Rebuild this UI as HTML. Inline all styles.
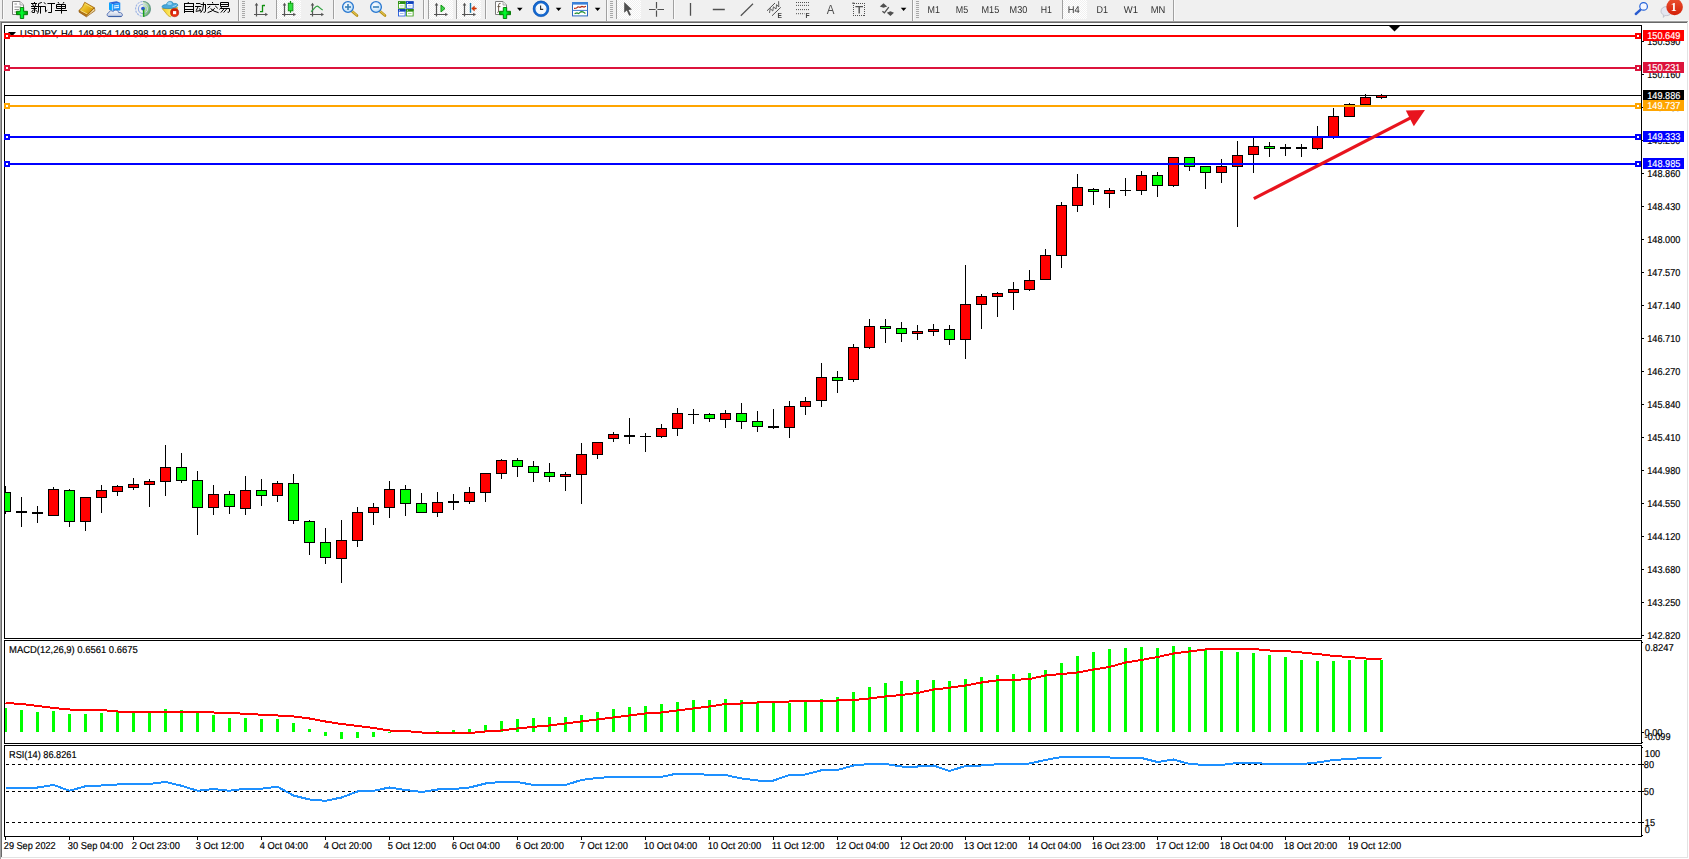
<!DOCTYPE html>
<html><head><meta charset="utf-8"><title>USDJPY H4</title>
<style>
html,body{margin:0;padding:0;background:#fff;}
body{width:1689px;height:859px;overflow:hidden;position:relative;font-family:"Liberation Sans",sans-serif;}
svg{display:block}
</style></head><body>
<svg id="chart" width="1689" height="859" viewBox="0 0 1689 859" style="position:absolute;left:0;top:0">
<g shape-rendering="crispEdges">
<rect x="0" y="22" width="1689" height="837" fill="#ffffff"/>
<rect x="0" y="22" width="1" height="837" fill="#a0a0a0"/>
<rect x="1" y="22" width="1" height="836" fill="#696969"/>
<rect x="1687" y="22" width="1" height="836" fill="#e3e3e3"/>
<rect x="1" y="857" width="1687" height="1" fill="#e3e3e3"/>
<rect x="4" y="25" width="1638" height="1" fill="#000"/>
<rect x="4" y="638" width="1638" height="1" fill="#000"/>
<rect x="4" y="25" width="1" height="614" fill="#000"/>
<rect x="1641" y="25" width="1" height="614" fill="#000"/>
<rect x="4" y="640" width="1638" height="1" fill="#000"/>
<rect x="4" y="743" width="1638" height="1" fill="#000"/>
<rect x="4" y="640" width="1" height="104" fill="#000"/>
<rect x="1641" y="640" width="1" height="104" fill="#000"/>
<rect x="4" y="745" width="1638" height="1" fill="#000"/>
<rect x="4" y="836" width="1638" height="1" fill="#000"/>
<rect x="4" y="745" width="1" height="92" fill="#000"/>
<rect x="1641" y="745" width="1" height="92" fill="#000"/>
<rect x="5" y="486" width="1" height="28" fill="#000"/>
<rect x="5" y="492" width="6" height="20" fill="#000"/>
<rect x="5" y="493" width="5" height="18" fill="#00ff00"/>
<rect x="21" y="497" width="1" height="30" fill="#000"/>
<rect x="16" y="511" width="11" height="2" fill="#000"/>
<rect x="37" y="506" width="1" height="17" fill="#000"/>
<rect x="32" y="512" width="11" height="2" fill="#000"/>
<rect x="53" y="487" width="1" height="29" fill="#000"/>
<rect x="48" y="489" width="11" height="27" fill="#000"/>
<rect x="49" y="490" width="9" height="25" fill="#ff0000"/>
<rect x="69" y="489" width="1" height="38" fill="#000"/>
<rect x="64" y="490" width="11" height="32" fill="#000"/>
<rect x="65" y="491" width="9" height="30" fill="#00ff00"/>
<rect x="85" y="497" width="1" height="34" fill="#000"/>
<rect x="80" y="497" width="11" height="25" fill="#000"/>
<rect x="81" y="498" width="9" height="23" fill="#ff0000"/>
<rect x="101" y="485" width="1" height="28" fill="#000"/>
<rect x="96" y="490" width="11" height="8" fill="#000"/>
<rect x="97" y="491" width="9" height="6" fill="#ff0000"/>
<rect x="117" y="485" width="1" height="11" fill="#000"/>
<rect x="112" y="486" width="11" height="6" fill="#000"/>
<rect x="113" y="487" width="9" height="4" fill="#ff0000"/>
<rect x="133" y="478" width="1" height="12" fill="#000"/>
<rect x="128" y="484" width="11" height="4" fill="#000"/>
<rect x="129" y="485" width="9" height="2" fill="#ff0000"/>
<rect x="149" y="479" width="1" height="28" fill="#000"/>
<rect x="144" y="481" width="11" height="4" fill="#000"/>
<rect x="145" y="482" width="9" height="2" fill="#ff0000"/>
<rect x="165" y="445" width="1" height="51" fill="#000"/>
<rect x="160" y="467" width="11" height="15" fill="#000"/>
<rect x="161" y="468" width="9" height="13" fill="#ff0000"/>
<rect x="181" y="453" width="1" height="30" fill="#000"/>
<rect x="176" y="467" width="11" height="14" fill="#000"/>
<rect x="177" y="468" width="9" height="12" fill="#00ff00"/>
<rect x="197" y="471" width="1" height="64" fill="#000"/>
<rect x="192" y="480" width="11" height="28" fill="#000"/>
<rect x="193" y="481" width="9" height="26" fill="#00ff00"/>
<rect x="213" y="485" width="1" height="30" fill="#000"/>
<rect x="208" y="494" width="11" height="14" fill="#000"/>
<rect x="209" y="495" width="9" height="12" fill="#ff0000"/>
<rect x="229" y="491" width="1" height="23" fill="#000"/>
<rect x="224" y="494" width="11" height="13" fill="#000"/>
<rect x="225" y="495" width="9" height="11" fill="#00ff00"/>
<rect x="245" y="476" width="1" height="39" fill="#000"/>
<rect x="240" y="490" width="11" height="19" fill="#000"/>
<rect x="241" y="491" width="9" height="17" fill="#ff0000"/>
<rect x="261" y="479" width="1" height="27" fill="#000"/>
<rect x="256" y="490" width="11" height="6" fill="#000"/>
<rect x="257" y="491" width="9" height="4" fill="#00ff00"/>
<rect x="277" y="481" width="1" height="21" fill="#000"/>
<rect x="272" y="483" width="11" height="13" fill="#000"/>
<rect x="273" y="484" width="9" height="11" fill="#ff0000"/>
<rect x="293" y="474" width="1" height="50" fill="#000"/>
<rect x="288" y="483" width="11" height="38" fill="#000"/>
<rect x="289" y="484" width="9" height="36" fill="#00ff00"/>
<rect x="309" y="520" width="1" height="35" fill="#000"/>
<rect x="304" y="521" width="11" height="22" fill="#000"/>
<rect x="305" y="522" width="9" height="20" fill="#00ff00"/>
<rect x="325" y="528" width="1" height="36" fill="#000"/>
<rect x="320" y="542" width="11" height="16" fill="#000"/>
<rect x="321" y="543" width="9" height="14" fill="#00ff00"/>
<rect x="341" y="520" width="1" height="63" fill="#000"/>
<rect x="336" y="540" width="11" height="19" fill="#000"/>
<rect x="337" y="541" width="9" height="17" fill="#ff0000"/>
<rect x="357" y="507" width="1" height="40" fill="#000"/>
<rect x="352" y="512" width="11" height="29" fill="#000"/>
<rect x="353" y="513" width="9" height="27" fill="#ff0000"/>
<rect x="373" y="503" width="1" height="22" fill="#000"/>
<rect x="368" y="507" width="11" height="6" fill="#000"/>
<rect x="369" y="508" width="9" height="4" fill="#ff0000"/>
<rect x="389" y="481" width="1" height="37" fill="#000"/>
<rect x="384" y="489" width="11" height="19" fill="#000"/>
<rect x="385" y="490" width="9" height="17" fill="#ff0000"/>
<rect x="405" y="485" width="1" height="31" fill="#000"/>
<rect x="400" y="489" width="11" height="15" fill="#000"/>
<rect x="401" y="490" width="9" height="13" fill="#00ff00"/>
<rect x="421" y="493" width="1" height="20" fill="#000"/>
<rect x="416" y="503" width="11" height="10" fill="#000"/>
<rect x="417" y="504" width="9" height="8" fill="#00ff00"/>
<rect x="437" y="492" width="1" height="25" fill="#000"/>
<rect x="432" y="502" width="11" height="11" fill="#000"/>
<rect x="433" y="503" width="9" height="9" fill="#ff0000"/>
<rect x="453" y="494" width="1" height="16" fill="#000"/>
<rect x="448" y="501" width="11" height="2" fill="#000"/>
<rect x="469" y="487" width="1" height="17" fill="#000"/>
<rect x="464" y="492" width="11" height="10" fill="#000"/>
<rect x="465" y="493" width="9" height="8" fill="#ff0000"/>
<rect x="485" y="473" width="1" height="29" fill="#000"/>
<rect x="480" y="473" width="11" height="20" fill="#000"/>
<rect x="481" y="474" width="9" height="18" fill="#ff0000"/>
<rect x="501" y="459" width="1" height="20" fill="#000"/>
<rect x="496" y="460" width="11" height="14" fill="#000"/>
<rect x="497" y="461" width="9" height="12" fill="#ff0000"/>
<rect x="517" y="458" width="1" height="19" fill="#000"/>
<rect x="512" y="460" width="11" height="7" fill="#000"/>
<rect x="513" y="461" width="9" height="5" fill="#00ff00"/>
<rect x="533" y="461" width="1" height="21" fill="#000"/>
<rect x="528" y="466" width="11" height="7" fill="#000"/>
<rect x="529" y="467" width="9" height="5" fill="#00ff00"/>
<rect x="549" y="463" width="1" height="19" fill="#000"/>
<rect x="544" y="472" width="11" height="5" fill="#000"/>
<rect x="545" y="473" width="9" height="3" fill="#00ff00"/>
<rect x="565" y="472" width="1" height="19" fill="#000"/>
<rect x="560" y="474" width="11" height="3" fill="#000"/>
<rect x="561" y="475" width="9" height="1" fill="#ff0000"/>
<rect x="581" y="443" width="1" height="61" fill="#000"/>
<rect x="576" y="454" width="11" height="21" fill="#000"/>
<rect x="577" y="455" width="9" height="19" fill="#ff0000"/>
<rect x="597" y="442" width="1" height="17" fill="#000"/>
<rect x="592" y="442" width="11" height="13" fill="#000"/>
<rect x="593" y="443" width="9" height="11" fill="#ff0000"/>
<rect x="613" y="432" width="1" height="10" fill="#000"/>
<rect x="608" y="434" width="11" height="5" fill="#000"/>
<rect x="609" y="435" width="9" height="3" fill="#ff0000"/>
<rect x="629" y="418" width="1" height="26" fill="#000"/>
<rect x="624" y="435" width="11" height="2" fill="#000"/>
<rect x="645" y="433" width="1" height="19" fill="#000"/>
<rect x="640" y="436" width="11" height="1" fill="#000"/>
<rect x="661" y="424" width="1" height="14" fill="#000"/>
<rect x="656" y="428" width="11" height="9" fill="#000"/>
<rect x="657" y="429" width="9" height="7" fill="#ff0000"/>
<rect x="677" y="408" width="1" height="28" fill="#000"/>
<rect x="672" y="413" width="11" height="16" fill="#000"/>
<rect x="673" y="414" width="9" height="14" fill="#ff0000"/>
<rect x="693" y="409" width="1" height="15" fill="#000"/>
<rect x="688" y="414" width="11" height="1" fill="#000"/>
<rect x="709" y="413" width="1" height="9" fill="#000"/>
<rect x="704" y="414" width="11" height="5" fill="#000"/>
<rect x="705" y="415" width="9" height="3" fill="#00ff00"/>
<rect x="725" y="410" width="1" height="18" fill="#000"/>
<rect x="720" y="413" width="11" height="7" fill="#000"/>
<rect x="721" y="414" width="9" height="5" fill="#ff0000"/>
<rect x="741" y="403" width="1" height="26" fill="#000"/>
<rect x="736" y="413" width="11" height="9" fill="#000"/>
<rect x="737" y="414" width="9" height="7" fill="#00ff00"/>
<rect x="757" y="411" width="1" height="21" fill="#000"/>
<rect x="752" y="421" width="11" height="6" fill="#000"/>
<rect x="753" y="422" width="9" height="4" fill="#00ff00"/>
<rect x="773" y="409" width="1" height="20" fill="#000"/>
<rect x="768" y="426" width="11" height="2" fill="#000"/>
<rect x="789" y="401" width="1" height="37" fill="#000"/>
<rect x="784" y="406" width="11" height="22" fill="#000"/>
<rect x="785" y="407" width="9" height="20" fill="#ff0000"/>
<rect x="805" y="397" width="1" height="18" fill="#000"/>
<rect x="800" y="401" width="11" height="6" fill="#000"/>
<rect x="801" y="402" width="9" height="4" fill="#ff0000"/>
<rect x="821" y="363" width="1" height="44" fill="#000"/>
<rect x="816" y="377" width="11" height="24" fill="#000"/>
<rect x="817" y="378" width="9" height="22" fill="#ff0000"/>
<rect x="837" y="371" width="1" height="22" fill="#000"/>
<rect x="832" y="377" width="11" height="4" fill="#000"/>
<rect x="833" y="378" width="9" height="2" fill="#00ff00"/>
<rect x="853" y="344" width="1" height="38" fill="#000"/>
<rect x="848" y="347" width="11" height="33" fill="#000"/>
<rect x="849" y="348" width="9" height="31" fill="#ff0000"/>
<rect x="869" y="319" width="1" height="30" fill="#000"/>
<rect x="864" y="326" width="11" height="22" fill="#000"/>
<rect x="865" y="327" width="9" height="20" fill="#ff0000"/>
<rect x="885" y="319" width="1" height="24" fill="#000"/>
<rect x="880" y="326" width="11" height="3" fill="#000"/>
<rect x="881" y="327" width="9" height="1" fill="#00ff00"/>
<rect x="901" y="322" width="1" height="20" fill="#000"/>
<rect x="896" y="328" width="11" height="6" fill="#000"/>
<rect x="897" y="329" width="9" height="4" fill="#00ff00"/>
<rect x="917" y="325" width="1" height="15" fill="#000"/>
<rect x="912" y="331" width="11" height="3" fill="#000"/>
<rect x="913" y="332" width="9" height="1" fill="#ff0000"/>
<rect x="933" y="324" width="1" height="12" fill="#000"/>
<rect x="928" y="329" width="11" height="3" fill="#000"/>
<rect x="929" y="330" width="9" height="1" fill="#ff0000"/>
<rect x="949" y="325" width="1" height="20" fill="#000"/>
<rect x="944" y="329" width="11" height="11" fill="#000"/>
<rect x="945" y="330" width="9" height="9" fill="#00ff00"/>
<rect x="965" y="265" width="1" height="94" fill="#000"/>
<rect x="960" y="304" width="11" height="36" fill="#000"/>
<rect x="961" y="305" width="9" height="34" fill="#ff0000"/>
<rect x="981" y="294" width="1" height="35" fill="#000"/>
<rect x="976" y="296" width="11" height="9" fill="#000"/>
<rect x="977" y="297" width="9" height="7" fill="#ff0000"/>
<rect x="997" y="292" width="1" height="25" fill="#000"/>
<rect x="992" y="293" width="11" height="4" fill="#000"/>
<rect x="993" y="294" width="9" height="2" fill="#ff0000"/>
<rect x="1013" y="282" width="1" height="28" fill="#000"/>
<rect x="1008" y="289" width="11" height="4" fill="#000"/>
<rect x="1009" y="290" width="9" height="2" fill="#ff0000"/>
<rect x="1029" y="270" width="1" height="21" fill="#000"/>
<rect x="1024" y="280" width="11" height="10" fill="#000"/>
<rect x="1025" y="281" width="9" height="8" fill="#ff0000"/>
<rect x="1045" y="249" width="1" height="31" fill="#000"/>
<rect x="1040" y="255" width="11" height="25" fill="#000"/>
<rect x="1041" y="256" width="9" height="23" fill="#ff0000"/>
<rect x="1061" y="202" width="1" height="66" fill="#000"/>
<rect x="1056" y="205" width="11" height="51" fill="#000"/>
<rect x="1057" y="206" width="9" height="49" fill="#ff0000"/>
<rect x="1077" y="174" width="1" height="38" fill="#000"/>
<rect x="1072" y="187" width="11" height="19" fill="#000"/>
<rect x="1073" y="188" width="9" height="17" fill="#ff0000"/>
<rect x="1093" y="188" width="1" height="17" fill="#000"/>
<rect x="1088" y="189" width="11" height="3" fill="#000"/>
<rect x="1089" y="190" width="9" height="1" fill="#00ff00"/>
<rect x="1109" y="188" width="1" height="20" fill="#000"/>
<rect x="1104" y="190" width="11" height="4" fill="#000"/>
<rect x="1105" y="191" width="9" height="2" fill="#ff0000"/>
<rect x="1125" y="178" width="1" height="18" fill="#000"/>
<rect x="1120" y="190" width="11" height="1" fill="#000"/>
<rect x="1141" y="171" width="1" height="24" fill="#000"/>
<rect x="1136" y="175" width="11" height="16" fill="#000"/>
<rect x="1137" y="176" width="9" height="14" fill="#ff0000"/>
<rect x="1157" y="172" width="1" height="25" fill="#000"/>
<rect x="1152" y="175" width="11" height="11" fill="#000"/>
<rect x="1153" y="176" width="9" height="9" fill="#00ff00"/>
<rect x="1173" y="157" width="1" height="30" fill="#000"/>
<rect x="1168" y="157" width="11" height="29" fill="#000"/>
<rect x="1169" y="158" width="9" height="27" fill="#ff0000"/>
<rect x="1189" y="157" width="1" height="14" fill="#000"/>
<rect x="1184" y="157" width="11" height="10" fill="#000"/>
<rect x="1185" y="158" width="9" height="8" fill="#00ff00"/>
<rect x="1205" y="166" width="1" height="23" fill="#000"/>
<rect x="1200" y="166" width="11" height="7" fill="#000"/>
<rect x="1201" y="167" width="9" height="5" fill="#00ff00"/>
<rect x="1221" y="159" width="1" height="24" fill="#000"/>
<rect x="1216" y="166" width="11" height="7" fill="#000"/>
<rect x="1217" y="167" width="9" height="5" fill="#ff0000"/>
<rect x="1237" y="141" width="1" height="86" fill="#000"/>
<rect x="1232" y="155" width="11" height="12" fill="#000"/>
<rect x="1233" y="156" width="9" height="10" fill="#ff0000"/>
<rect x="1253" y="138" width="1" height="35" fill="#000"/>
<rect x="1248" y="146" width="11" height="9" fill="#000"/>
<rect x="1249" y="147" width="9" height="7" fill="#ff0000"/>
<rect x="1269" y="142" width="1" height="15" fill="#000"/>
<rect x="1264" y="146" width="11" height="3" fill="#000"/>
<rect x="1265" y="147" width="9" height="1" fill="#00ff00"/>
<rect x="1285" y="144" width="1" height="12" fill="#000"/>
<rect x="1280" y="147" width="11" height="2" fill="#000"/>
<rect x="1301" y="144" width="1" height="13" fill="#000"/>
<rect x="1296" y="147" width="11" height="2" fill="#000"/>
<rect x="1317" y="126" width="1" height="24" fill="#000"/>
<rect x="1312" y="137" width="11" height="12" fill="#000"/>
<rect x="1313" y="138" width="9" height="10" fill="#ff0000"/>
<rect x="1333" y="108" width="1" height="31" fill="#000"/>
<rect x="1328" y="116" width="11" height="21" fill="#000"/>
<rect x="1329" y="117" width="9" height="19" fill="#ff0000"/>
<rect x="1349" y="103" width="1" height="14" fill="#000"/>
<rect x="1344" y="104" width="11" height="13" fill="#000"/>
<rect x="1345" y="105" width="9" height="11" fill="#ff0000"/>
<rect x="1365" y="94" width="1" height="11" fill="#000"/>
<rect x="1360" y="97" width="11" height="8" fill="#000"/>
<rect x="1361" y="98" width="9" height="6" fill="#ff0000"/>
<rect x="1381" y="94" width="1" height="5" fill="#000"/>
<rect x="1376" y="95" width="11" height="3" fill="#000"/>
<rect x="1377" y="96" width="9" height="1" fill="#ff0000"/>
</g>
<polygon points="8,32 16,32 12,36.5" fill="#000"/>
<text x="20" y="37" font-size="10" fill="#000" style="text-rendering:geometricPrecision" stroke="#000" stroke-width="0.18" textLength="201.5" lengthAdjust="spacingAndGlyphs" font-family="Liberation Sans, sans-serif">USDJPY, H4  149.854 149.898 149.850 149.886</text>
<g shape-rendering="crispEdges">
<rect x="5" y="35" width="1636" height="2" fill="#ff0000"/>
<rect x="4" y="33" width="6" height="6" fill="#ff0000"/>
<rect x="6" y="35" width="2" height="2" fill="#fff"/>
<rect x="1635" y="33" width="6" height="6" fill="#ff0000"/>
<rect x="1637" y="35" width="2" height="2" fill="#fff"/>
<rect x="5" y="67" width="1636" height="2" fill="#dc143c"/>
<rect x="4" y="65" width="6" height="6" fill="#dc143c"/>
<rect x="6" y="67" width="2" height="2" fill="#fff"/>
<rect x="1635" y="65" width="6" height="6" fill="#dc143c"/>
<rect x="1637" y="67" width="2" height="2" fill="#fff"/>
<rect x="5" y="95" width="1636" height="1" fill="#000000"/>
<rect x="5" y="105" width="1636" height="2" fill="#ffa500"/>
<rect x="4" y="103" width="6" height="6" fill="#ffa500"/>
<rect x="6" y="105" width="2" height="2" fill="#fff"/>
<rect x="1635" y="103" width="6" height="6" fill="#ffa500"/>
<rect x="1637" y="105" width="2" height="2" fill="#fff"/>
<rect x="5" y="136" width="1636" height="2" fill="#0000ff"/>
<rect x="4" y="134" width="6" height="6" fill="#0000ff"/>
<rect x="6" y="136" width="2" height="2" fill="#fff"/>
<rect x="1635" y="134" width="6" height="6" fill="#0000ff"/>
<rect x="1637" y="136" width="2" height="2" fill="#fff"/>
<rect x="5" y="163" width="1636" height="2" fill="#0000ff"/>
<rect x="4" y="161" width="6" height="6" fill="#0000ff"/>
<rect x="6" y="163" width="2" height="2" fill="#fff"/>
<rect x="1635" y="161" width="6" height="6" fill="#0000ff"/>
<rect x="1637" y="163" width="2" height="2" fill="#fff"/>
</g>
<line x1="1253.8" y1="198.7" x2="1411" y2="117.6" stroke="#e8141e" stroke-width="3.2"/>
<polygon points="1405.8,110.6 1425,109.9 1413.8,126.2" fill="#e8141e"/>
<polygon points="1389,26 1400,26 1394.5,31.5" fill="#000"/>
<g shape-rendering="crispEdges">
<rect x="1642" y="41" width="2" height="1" fill="#000"/>
<rect x="1642" y="74" width="2" height="1" fill="#000"/>
<rect x="1642" y="107" width="2" height="1" fill="#000"/>
<rect x="1642" y="140" width="2" height="1" fill="#000"/>
<rect x="1642" y="173" width="2" height="1" fill="#000"/>
<rect x="1642" y="206" width="2" height="1" fill="#000"/>
<rect x="1642" y="239" width="2" height="1" fill="#000"/>
<rect x="1642" y="272" width="2" height="1" fill="#000"/>
<rect x="1642" y="305" width="2" height="1" fill="#000"/>
<rect x="1642" y="338" width="2" height="1" fill="#000"/>
<rect x="1642" y="371" width="2" height="1" fill="#000"/>
<rect x="1642" y="404" width="2" height="1" fill="#000"/>
<rect x="1642" y="437" width="2" height="1" fill="#000"/>
<rect x="1642" y="470" width="2" height="1" fill="#000"/>
<rect x="1642" y="503" width="2" height="1" fill="#000"/>
<rect x="1642" y="536" width="2" height="1" fill="#000"/>
<rect x="1642" y="569" width="2" height="1" fill="#000"/>
<rect x="1642" y="602" width="2" height="1" fill="#000"/>
<rect x="1642" y="635" width="2" height="1" fill="#000"/>
<rect x="5" y="708" width="2" height="24" fill="#00ff00"/>
<rect x="20" y="710" width="3" height="22" fill="#00ff00"/>
<rect x="36" y="712" width="3" height="20" fill="#00ff00"/>
<rect x="52" y="711" width="3" height="21" fill="#00ff00"/>
<rect x="68" y="714" width="3" height="18" fill="#00ff00"/>
<rect x="84" y="714" width="3" height="18" fill="#00ff00"/>
<rect x="100" y="713" width="3" height="19" fill="#00ff00"/>
<rect x="116" y="712" width="3" height="20" fill="#00ff00"/>
<rect x="132" y="712" width="3" height="20" fill="#00ff00"/>
<rect x="148" y="712" width="3" height="20" fill="#00ff00"/>
<rect x="164" y="709" width="3" height="23" fill="#00ff00"/>
<rect x="180" y="710" width="3" height="22" fill="#00ff00"/>
<rect x="196" y="712" width="3" height="20" fill="#00ff00"/>
<rect x="212" y="715" width="3" height="17" fill="#00ff00"/>
<rect x="228" y="718" width="3" height="14" fill="#00ff00"/>
<rect x="244" y="718" width="3" height="14" fill="#00ff00"/>
<rect x="260" y="719" width="3" height="13" fill="#00ff00"/>
<rect x="276" y="719" width="3" height="13" fill="#00ff00"/>
<rect x="292" y="723" width="3" height="9" fill="#00ff00"/>
<rect x="308" y="729" width="3" height="3" fill="#00ff00"/>
<rect x="324" y="732" width="3" height="4" fill="#00ff00"/>
<rect x="340" y="732" width="3" height="7" fill="#00ff00"/>
<rect x="356" y="732" width="3" height="6" fill="#00ff00"/>
<rect x="372" y="732" width="3" height="5" fill="#00ff00"/>
<rect x="388" y="732" width="3" height="1" fill="#00ff00"/>
<rect x="436" y="731" width="3" height="1" fill="#00ff00"/>
<rect x="452" y="730" width="3" height="2" fill="#00ff00"/>
<rect x="468" y="729" width="3" height="3" fill="#00ff00"/>
<rect x="484" y="725" width="3" height="7" fill="#00ff00"/>
<rect x="500" y="721" width="3" height="11" fill="#00ff00"/>
<rect x="516" y="719" width="3" height="13" fill="#00ff00"/>
<rect x="532" y="718" width="3" height="14" fill="#00ff00"/>
<rect x="548" y="717" width="3" height="15" fill="#00ff00"/>
<rect x="564" y="717" width="3" height="15" fill="#00ff00"/>
<rect x="580" y="715" width="3" height="17" fill="#00ff00"/>
<rect x="596" y="712" width="3" height="20" fill="#00ff00"/>
<rect x="612" y="709" width="3" height="23" fill="#00ff00"/>
<rect x="628" y="707" width="3" height="25" fill="#00ff00"/>
<rect x="644" y="706" width="3" height="26" fill="#00ff00"/>
<rect x="660" y="704" width="3" height="28" fill="#00ff00"/>
<rect x="676" y="702" width="3" height="30" fill="#00ff00"/>
<rect x="692" y="700" width="3" height="32" fill="#00ff00"/>
<rect x="708" y="700" width="3" height="32" fill="#00ff00"/>
<rect x="724" y="699" width="3" height="33" fill="#00ff00"/>
<rect x="740" y="700" width="3" height="32" fill="#00ff00"/>
<rect x="756" y="702" width="3" height="30" fill="#00ff00"/>
<rect x="772" y="702" width="3" height="30" fill="#00ff00"/>
<rect x="788" y="703" width="3" height="29" fill="#00ff00"/>
<rect x="804" y="702" width="3" height="30" fill="#00ff00"/>
<rect x="820" y="699" width="3" height="33" fill="#00ff00"/>
<rect x="836" y="697" width="3" height="35" fill="#00ff00"/>
<rect x="852" y="692" width="3" height="40" fill="#00ff00"/>
<rect x="868" y="687" width="3" height="45" fill="#00ff00"/>
<rect x="884" y="683" width="3" height="49" fill="#00ff00"/>
<rect x="900" y="681" width="3" height="51" fill="#00ff00"/>
<rect x="916" y="680" width="3" height="52" fill="#00ff00"/>
<rect x="932" y="680" width="3" height="52" fill="#00ff00"/>
<rect x="948" y="681" width="3" height="51" fill="#00ff00"/>
<rect x="964" y="679" width="3" height="53" fill="#00ff00"/>
<rect x="980" y="677" width="3" height="55" fill="#00ff00"/>
<rect x="996" y="675" width="3" height="57" fill="#00ff00"/>
<rect x="1012" y="674" width="3" height="58" fill="#00ff00"/>
<rect x="1028" y="673" width="3" height="59" fill="#00ff00"/>
<rect x="1044" y="670" width="3" height="62" fill="#00ff00"/>
<rect x="1060" y="663" width="3" height="69" fill="#00ff00"/>
<rect x="1076" y="656" width="3" height="76" fill="#00ff00"/>
<rect x="1092" y="652" width="3" height="80" fill="#00ff00"/>
<rect x="1108" y="649" width="3" height="83" fill="#00ff00"/>
<rect x="1124" y="648" width="3" height="84" fill="#00ff00"/>
<rect x="1140" y="647" width="3" height="85" fill="#00ff00"/>
<rect x="1156" y="648" width="3" height="84" fill="#00ff00"/>
<rect x="1172" y="646" width="3" height="86" fill="#00ff00"/>
<rect x="1188" y="647" width="3" height="85" fill="#00ff00"/>
<rect x="1204" y="650" width="3" height="82" fill="#00ff00"/>
<rect x="1220" y="651" width="3" height="81" fill="#00ff00"/>
<rect x="1236" y="652" width="3" height="80" fill="#00ff00"/>
<rect x="1252" y="653" width="3" height="79" fill="#00ff00"/>
<rect x="1268" y="655" width="3" height="77" fill="#00ff00"/>
<rect x="1284" y="657" width="3" height="75" fill="#00ff00"/>
<rect x="1300" y="660" width="3" height="72" fill="#00ff00"/>
<rect x="1316" y="661" width="3" height="71" fill="#00ff00"/>
<rect x="1332" y="661" width="3" height="71" fill="#00ff00"/>
<rect x="1348" y="660" width="3" height="72" fill="#00ff00"/>
<rect x="1364" y="660" width="3" height="72" fill="#00ff00"/>
<rect x="1380" y="660" width="3" height="72" fill="#00ff00"/>
<polyline points="5.5,703 21.5,704 37.5,706 53.5,708 69.5,709.5 85.5,710 101.5,710 117.5,711.5 133.5,711.75 149.5,711.75 165.5,711.75 181.5,711.75 197.5,711.75 213.5,712.5 229.5,713 245.5,713.75 261.5,714.75 277.5,715.5 293.5,716.5 309.5,718.5 325.5,721.5 341.5,724 357.5,726 373.5,728 389.5,730.5 405.5,731 421.5,732.5 437.5,733 453.5,733.5 469.5,733 485.5,731.5 501.5,730.5 517.5,728.5 533.5,726.75 549.5,725.5 565.5,723.5 581.5,721.5 597.5,719.5 613.5,717.5 629.5,715.5 645.5,713.5 661.5,712.5 677.5,710.5 693.5,708.5 709.5,706.5 725.5,704 741.5,703.5 757.5,702.5 773.5,702 789.5,701.5 805.5,701 821.5,701 837.5,700.5 853.5,700 869.5,698.5 885.5,696.5 901.5,695 917.5,693 933.5,689.5 949.5,687.75 965.5,685.5 981.5,682.5 997.5,680.25 1013.5,680 1029.5,679 1045.5,675.5 1061.5,674 1077.5,672.5 1093.5,669.5 1109.5,667 1125.5,662.5 1141.5,660 1157.5,657 1173.5,653.5 1189.5,651.5 1205.5,649.5 1221.5,649 1237.5,649 1253.5,649 1269.5,650.5 1285.5,651 1301.5,652.5 1317.5,654 1333.5,656 1349.5,657 1365.5,658.5 1381.5,659" fill="none" stroke="#ff0000" stroke-width="2" stroke-linejoin="round"/>
<line x1="6" y1="764.5" x2="1641" y2="764.5" stroke="#000" stroke-width="1" stroke-dasharray="3,3"/>
<line x1="6" y1="791.5" x2="1641" y2="791.5" stroke="#000" stroke-width="1" stroke-dasharray="3,3"/>
<line x1="6" y1="822.5" x2="1641" y2="822.5" stroke="#000" stroke-width="1" stroke-dasharray="3,3"/>
<rect x="1642" y="642" width="1" height="1" fill="#000"/>
<rect x="1642" y="742" width="1" height="1" fill="#000"/>
<rect x="1642" y="747" width="1" height="1" fill="#000"/>
<rect x="1642" y="835" width="1" height="1" fill="#000"/>
<rect x="1642" y="732" width="2" height="1" fill="#000"/>
<rect x="1642" y="764" width="2" height="1" fill="#000"/>
<rect x="1642" y="791" width="2" height="1" fill="#000"/>
<rect x="1642" y="822" width="2" height="1" fill="#000"/>
<rect x="5" y="837" width="1" height="3" fill="#000"/>
<rect x="69" y="837" width="1" height="3" fill="#000"/>
<rect x="133" y="837" width="1" height="3" fill="#000"/>
<rect x="197" y="837" width="1" height="3" fill="#000"/>
<rect x="261" y="837" width="1" height="3" fill="#000"/>
<rect x="325" y="837" width="1" height="3" fill="#000"/>
<rect x="389" y="837" width="1" height="3" fill="#000"/>
<rect x="453" y="837" width="1" height="3" fill="#000"/>
<rect x="517" y="837" width="1" height="3" fill="#000"/>
<rect x="581" y="837" width="1" height="3" fill="#000"/>
<rect x="645" y="837" width="1" height="3" fill="#000"/>
<rect x="709" y="837" width="1" height="3" fill="#000"/>
<rect x="773" y="837" width="1" height="3" fill="#000"/>
<rect x="837" y="837" width="1" height="3" fill="#000"/>
<rect x="901" y="837" width="1" height="3" fill="#000"/>
<rect x="965" y="837" width="1" height="3" fill="#000"/>
<rect x="1029" y="837" width="1" height="3" fill="#000"/>
<rect x="1093" y="837" width="1" height="3" fill="#000"/>
<rect x="1157" y="837" width="1" height="3" fill="#000"/>
<rect x="1221" y="837" width="1" height="3" fill="#000"/>
<rect x="1285" y="837" width="1" height="3" fill="#000"/>
<rect x="1349" y="837" width="1" height="3" fill="#000"/>
<polyline points="5.5,787.5 21.5,787.5 37.5,787.5 53.5,785 69.5,790.75 85.5,786.25 101.5,785.5 117.5,784.5 133.5,784 149.5,784 165.5,782 181.5,785.75 197.5,790.75 213.5,789 229.5,790.75 245.5,788.75 261.5,788.75 277.5,786.75 293.5,795.5 309.5,799.5 325.5,800.75 341.5,797.5 357.5,791.5 373.5,790.75 389.5,787.5 405.5,790 421.5,792 437.5,789.5 453.5,789 469.5,787.5 485.5,783.5 501.5,781.75 517.5,782 533.5,785 549.5,785 565.5,785 581.5,780 597.5,778 613.5,776.75 629.5,776.75 645.5,776.75 661.5,776.75 677.5,773.5 693.5,773.5 709.5,775 725.5,775 741.5,778.5 757.5,780.5 773.5,780.5 789.5,775 805.5,774.5 821.5,770.25 837.5,770 853.5,765.5 869.5,764 885.5,764 901.5,766.5 917.5,766.5 933.5,765.5 949.5,771 965.5,766 981.5,765.5 997.5,764.25 1013.5,764 1029.5,763.5 1045.5,760 1061.5,757 1077.5,757 1093.5,757 1109.5,757.5 1125.5,758 1141.5,758 1157.5,762 1173.5,759.5 1189.5,764 1205.5,765 1221.5,765 1237.5,763 1253.5,763 1269.5,764 1285.5,764 1301.5,764 1317.5,762.5 1333.5,760 1349.5,759 1365.5,758 1381.5,757.5" fill="none" stroke="#1e90ff" stroke-width="2" stroke-linejoin="round"/>
</g>
<text x="1647.3" y="45" font-size="10" fill="#000" style="text-rendering:geometricPrecision" stroke="#000" stroke-width="0.18" textLength="33.0" lengthAdjust="spacingAndGlyphs" font-family="Liberation Sans, sans-serif">150.590</text>
<text x="1647.3" y="78" font-size="10" fill="#000" style="text-rendering:geometricPrecision" stroke="#000" stroke-width="0.18" textLength="33.0" lengthAdjust="spacingAndGlyphs" font-family="Liberation Sans, sans-serif">150.160</text>
<text x="1647.3" y="111" font-size="10" fill="#000" style="text-rendering:geometricPrecision" stroke="#000" stroke-width="0.18" textLength="33.0" lengthAdjust="spacingAndGlyphs" font-family="Liberation Sans, sans-serif">149.730</text>
<text x="1647.3" y="144" font-size="10" fill="#000" style="text-rendering:geometricPrecision" stroke="#000" stroke-width="0.18" textLength="33.0" lengthAdjust="spacingAndGlyphs" font-family="Liberation Sans, sans-serif">149.290</text>
<text x="1647.3" y="177" font-size="10" fill="#000" style="text-rendering:geometricPrecision" stroke="#000" stroke-width="0.18" textLength="33.0" lengthAdjust="spacingAndGlyphs" font-family="Liberation Sans, sans-serif">148.860</text>
<text x="1647.3" y="210" font-size="10" fill="#000" style="text-rendering:geometricPrecision" stroke="#000" stroke-width="0.18" textLength="33.0" lengthAdjust="spacingAndGlyphs" font-family="Liberation Sans, sans-serif">148.430</text>
<text x="1647.3" y="243" font-size="10" fill="#000" style="text-rendering:geometricPrecision" stroke="#000" stroke-width="0.18" textLength="33.0" lengthAdjust="spacingAndGlyphs" font-family="Liberation Sans, sans-serif">148.000</text>
<text x="1647.3" y="276" font-size="10" fill="#000" style="text-rendering:geometricPrecision" stroke="#000" stroke-width="0.18" textLength="33.0" lengthAdjust="spacingAndGlyphs" font-family="Liberation Sans, sans-serif">147.570</text>
<text x="1647.3" y="309" font-size="10" fill="#000" style="text-rendering:geometricPrecision" stroke="#000" stroke-width="0.18" textLength="33.0" lengthAdjust="spacingAndGlyphs" font-family="Liberation Sans, sans-serif">147.140</text>
<text x="1647.3" y="342" font-size="10" fill="#000" style="text-rendering:geometricPrecision" stroke="#000" stroke-width="0.18" textLength="33.0" lengthAdjust="spacingAndGlyphs" font-family="Liberation Sans, sans-serif">146.710</text>
<text x="1647.3" y="375" font-size="10" fill="#000" style="text-rendering:geometricPrecision" stroke="#000" stroke-width="0.18" textLength="33.0" lengthAdjust="spacingAndGlyphs" font-family="Liberation Sans, sans-serif">146.270</text>
<text x="1647.3" y="408" font-size="10" fill="#000" style="text-rendering:geometricPrecision" stroke="#000" stroke-width="0.18" textLength="33.0" lengthAdjust="spacingAndGlyphs" font-family="Liberation Sans, sans-serif">145.840</text>
<text x="1647.3" y="441" font-size="10" fill="#000" style="text-rendering:geometricPrecision" stroke="#000" stroke-width="0.18" textLength="33.0" lengthAdjust="spacingAndGlyphs" font-family="Liberation Sans, sans-serif">145.410</text>
<text x="1647.3" y="474" font-size="10" fill="#000" style="text-rendering:geometricPrecision" stroke="#000" stroke-width="0.18" textLength="33.0" lengthAdjust="spacingAndGlyphs" font-family="Liberation Sans, sans-serif">144.980</text>
<text x="1647.3" y="507" font-size="10" fill="#000" style="text-rendering:geometricPrecision" stroke="#000" stroke-width="0.18" textLength="33.0" lengthAdjust="spacingAndGlyphs" font-family="Liberation Sans, sans-serif">144.550</text>
<text x="1647.3" y="540" font-size="10" fill="#000" style="text-rendering:geometricPrecision" stroke="#000" stroke-width="0.18" textLength="33.0" lengthAdjust="spacingAndGlyphs" font-family="Liberation Sans, sans-serif">144.120</text>
<text x="1647.3" y="573" font-size="10" fill="#000" style="text-rendering:geometricPrecision" stroke="#000" stroke-width="0.18" textLength="33.0" lengthAdjust="spacingAndGlyphs" font-family="Liberation Sans, sans-serif">143.680</text>
<text x="1647.3" y="606" font-size="10" fill="#000" style="text-rendering:geometricPrecision" stroke="#000" stroke-width="0.18" textLength="33.0" lengthAdjust="spacingAndGlyphs" font-family="Liberation Sans, sans-serif">143.250</text>
<text x="1647.3" y="639" font-size="10" fill="#000" style="text-rendering:geometricPrecision" stroke="#000" stroke-width="0.18" textLength="33.0" lengthAdjust="spacingAndGlyphs" font-family="Liberation Sans, sans-serif">142.820</text>
<g shape-rendering="crispEdges">
<rect x="1643" y="30" width="41" height="11" fill="#ff0000"/>
<rect x="1643" y="62" width="41" height="11" fill="#dc143c"/>
<rect x="1643" y="90" width="41" height="10" fill="#000000"/>
<rect x="1643" y="100" width="41" height="11" fill="#ffa500"/>
<rect x="1643" y="131" width="41" height="11" fill="#0000ff"/>
<rect x="1643" y="158" width="41" height="11" fill="#0000ff"/>
</g>
<text x="1647.3" y="39" font-size="10" fill="#fff" style="text-rendering:geometricPrecision" stroke="#fff" stroke-width="0.18" textLength="33.0" lengthAdjust="spacingAndGlyphs" font-family="Liberation Sans, sans-serif">150.649</text>
<text x="1647.3" y="71" font-size="10" fill="#fff" style="text-rendering:geometricPrecision" stroke="#fff" stroke-width="0.18" textLength="33.0" lengthAdjust="spacingAndGlyphs" font-family="Liberation Sans, sans-serif">150.231</text>
<text x="1647.3" y="99" font-size="10" fill="#fff" style="text-rendering:geometricPrecision" stroke="#fff" stroke-width="0.18" textLength="33.0" lengthAdjust="spacingAndGlyphs" font-family="Liberation Sans, sans-serif">149.886</text>
<text x="1647.3" y="109" font-size="10" fill="#fff" style="text-rendering:geometricPrecision" stroke="#fff" stroke-width="0.18" textLength="33.0" lengthAdjust="spacingAndGlyphs" font-family="Liberation Sans, sans-serif">149.737</text>
<text x="1647.3" y="140" font-size="10" fill="#fff" style="text-rendering:geometricPrecision" stroke="#fff" stroke-width="0.18" textLength="33.0" lengthAdjust="spacingAndGlyphs" font-family="Liberation Sans, sans-serif">149.333</text>
<text x="1647.3" y="167" font-size="10" fill="#fff" style="text-rendering:geometricPrecision" stroke="#fff" stroke-width="0.18" textLength="33.0" lengthAdjust="spacingAndGlyphs" font-family="Liberation Sans, sans-serif">148.985</text>
<text x="1645" y="651" font-size="10" fill="#000" style="text-rendering:geometricPrecision" stroke="#000" stroke-width="0.18" textLength="28.6" lengthAdjust="spacingAndGlyphs" font-family="Liberation Sans, sans-serif">0.8247</text>
<text x="1644.6" y="736" font-size="10" fill="#000" style="text-rendering:geometricPrecision" stroke="#000" stroke-width="0.18" textLength="17.8" lengthAdjust="spacingAndGlyphs" font-family="Liberation Sans, sans-serif">0.00</text>
<text x="1644.6" y="740" font-size="10" fill="#000" style="text-rendering:geometricPrecision" stroke="#000" stroke-width="0.18" textLength="25.9" lengthAdjust="spacingAndGlyphs" font-family="Liberation Sans, sans-serif">-0.099</text>
<text x="1644.8" y="757" font-size="10" fill="#000" style="text-rendering:geometricPrecision" stroke="#000" stroke-width="0.18" textLength="15.3" lengthAdjust="spacingAndGlyphs" font-family="Liberation Sans, sans-serif">100</text>
<text x="1643.8" y="768" font-size="10" fill="#000" style="text-rendering:geometricPrecision" stroke="#000" stroke-width="0.18" textLength="10.2" lengthAdjust="spacingAndGlyphs" font-family="Liberation Sans, sans-serif">80</text>
<text x="1643.8" y="795" font-size="10" fill="#000" style="text-rendering:geometricPrecision" stroke="#000" stroke-width="0.18" textLength="10.2" lengthAdjust="spacingAndGlyphs" font-family="Liberation Sans, sans-serif">50</text>
<text x="1644.8" y="826" font-size="10" fill="#000" style="text-rendering:geometricPrecision" stroke="#000" stroke-width="0.18" textLength="10.2" lengthAdjust="spacingAndGlyphs" font-family="Liberation Sans, sans-serif">15</text>
<text x="1644.8" y="833" font-size="10" fill="#000" style="text-rendering:geometricPrecision" stroke="#000" stroke-width="0.18" textLength="5.1" lengthAdjust="spacingAndGlyphs" font-family="Liberation Sans, sans-serif">0</text>
<text x="9" y="653" font-size="10" fill="#000" style="text-rendering:geometricPrecision" stroke="#000" stroke-width="0.18" textLength="128.8" lengthAdjust="spacingAndGlyphs" font-family="Liberation Sans, sans-serif">MACD(12,26,9) 0.6561 0.6675</text>
<text x="9" y="758" font-size="10" fill="#000" style="text-rendering:geometricPrecision" stroke="#000" stroke-width="0.18" textLength="67.6" lengthAdjust="spacingAndGlyphs" font-family="Liberation Sans, sans-serif">RSI(14) 86.8261</text>
<text x="3.8" y="849" font-size="10" fill="#000" style="text-rendering:geometricPrecision" stroke="#000" stroke-width="0.18" textLength="51.9" lengthAdjust="spacingAndGlyphs" font-family="Liberation Sans, sans-serif">29 Sep 2022</text>
<text x="67.8" y="849" font-size="10" fill="#000" style="text-rendering:geometricPrecision" stroke="#000" stroke-width="0.18" textLength="55.4" lengthAdjust="spacingAndGlyphs" font-family="Liberation Sans, sans-serif">30 Sep 04:00</text>
<text x="131.8" y="849" font-size="10" fill="#000" style="text-rendering:geometricPrecision" stroke="#000" stroke-width="0.18" textLength="48.2" lengthAdjust="spacingAndGlyphs" font-family="Liberation Sans, sans-serif">2 Oct 23:00</text>
<text x="195.8" y="849" font-size="10" fill="#000" style="text-rendering:geometricPrecision" stroke="#000" stroke-width="0.18" textLength="48.2" lengthAdjust="spacingAndGlyphs" font-family="Liberation Sans, sans-serif">3 Oct 12:00</text>
<text x="259.8" y="849" font-size="10" fill="#000" style="text-rendering:geometricPrecision" stroke="#000" stroke-width="0.18" textLength="48.2" lengthAdjust="spacingAndGlyphs" font-family="Liberation Sans, sans-serif">4 Oct 04:00</text>
<text x="323.8" y="849" font-size="10" fill="#000" style="text-rendering:geometricPrecision" stroke="#000" stroke-width="0.18" textLength="48.2" lengthAdjust="spacingAndGlyphs" font-family="Liberation Sans, sans-serif">4 Oct 20:00</text>
<text x="387.8" y="849" font-size="10" fill="#000" style="text-rendering:geometricPrecision" stroke="#000" stroke-width="0.18" textLength="48.2" lengthAdjust="spacingAndGlyphs" font-family="Liberation Sans, sans-serif">5 Oct 12:00</text>
<text x="451.8" y="849" font-size="10" fill="#000" style="text-rendering:geometricPrecision" stroke="#000" stroke-width="0.18" textLength="48.2" lengthAdjust="spacingAndGlyphs" font-family="Liberation Sans, sans-serif">6 Oct 04:00</text>
<text x="515.8" y="849" font-size="10" fill="#000" style="text-rendering:geometricPrecision" stroke="#000" stroke-width="0.18" textLength="48.2" lengthAdjust="spacingAndGlyphs" font-family="Liberation Sans, sans-serif">6 Oct 20:00</text>
<text x="579.8" y="849" font-size="10" fill="#000" style="text-rendering:geometricPrecision" stroke="#000" stroke-width="0.18" textLength="48.2" lengthAdjust="spacingAndGlyphs" font-family="Liberation Sans, sans-serif">7 Oct 12:00</text>
<text x="643.8" y="849" font-size="10" fill="#000" style="text-rendering:geometricPrecision" stroke="#000" stroke-width="0.18" textLength="53.4" lengthAdjust="spacingAndGlyphs" font-family="Liberation Sans, sans-serif">10 Oct 04:00</text>
<text x="707.8" y="849" font-size="10" fill="#000" style="text-rendering:geometricPrecision" stroke="#000" stroke-width="0.18" textLength="53.4" lengthAdjust="spacingAndGlyphs" font-family="Liberation Sans, sans-serif">10 Oct 20:00</text>
<text x="771.8" y="849" font-size="10" fill="#000" style="text-rendering:geometricPrecision" stroke="#000" stroke-width="0.18" textLength="52.7" lengthAdjust="spacingAndGlyphs" font-family="Liberation Sans, sans-serif">11 Oct 12:00</text>
<text x="835.8" y="849" font-size="10" fill="#000" style="text-rendering:geometricPrecision" stroke="#000" stroke-width="0.18" textLength="53.4" lengthAdjust="spacingAndGlyphs" font-family="Liberation Sans, sans-serif">12 Oct 04:00</text>
<text x="899.8" y="849" font-size="10" fill="#000" style="text-rendering:geometricPrecision" stroke="#000" stroke-width="0.18" textLength="53.4" lengthAdjust="spacingAndGlyphs" font-family="Liberation Sans, sans-serif">12 Oct 20:00</text>
<text x="963.8" y="849" font-size="10" fill="#000" style="text-rendering:geometricPrecision" stroke="#000" stroke-width="0.18" textLength="53.4" lengthAdjust="spacingAndGlyphs" font-family="Liberation Sans, sans-serif">13 Oct 12:00</text>
<text x="1027.8" y="849" font-size="10" fill="#000" style="text-rendering:geometricPrecision" stroke="#000" stroke-width="0.18" textLength="53.4" lengthAdjust="spacingAndGlyphs" font-family="Liberation Sans, sans-serif">14 Oct 04:00</text>
<text x="1091.8" y="849" font-size="10" fill="#000" style="text-rendering:geometricPrecision" stroke="#000" stroke-width="0.18" textLength="53.4" lengthAdjust="spacingAndGlyphs" font-family="Liberation Sans, sans-serif">16 Oct 23:00</text>
<text x="1155.8" y="849" font-size="10" fill="#000" style="text-rendering:geometricPrecision" stroke="#000" stroke-width="0.18" textLength="53.4" lengthAdjust="spacingAndGlyphs" font-family="Liberation Sans, sans-serif">17 Oct 12:00</text>
<text x="1219.8" y="849" font-size="10" fill="#000" style="text-rendering:geometricPrecision" stroke="#000" stroke-width="0.18" textLength="53.4" lengthAdjust="spacingAndGlyphs" font-family="Liberation Sans, sans-serif">18 Oct 04:00</text>
<text x="1283.8" y="849" font-size="10" fill="#000" style="text-rendering:geometricPrecision" stroke="#000" stroke-width="0.18" textLength="53.4" lengthAdjust="spacingAndGlyphs" font-family="Liberation Sans, sans-serif">18 Oct 20:00</text>
<text x="1347.8" y="849" font-size="10" fill="#000" style="text-rendering:geometricPrecision" stroke="#000" stroke-width="0.18" textLength="53.4" lengthAdjust="spacingAndGlyphs" font-family="Liberation Sans, sans-serif">19 Oct 12:00</text>
</svg>
<svg width="1689" height="23" viewBox="0 0 1689 23" style="position:absolute;left:0;top:0;will-change:transform">
<defs>
<linearGradient id="gGreen" x1="0" y1="0" x2="1" y2="0"><stop offset="0" stop-color="#00a000"/><stop offset="0.5" stop-color="#00ff30"/><stop offset="1" stop-color="#008800"/></linearGradient>
<linearGradient id="gGold" x1="0" y1="0" x2="1" y2="1"><stop offset="0" stop-color="#ffe860"/><stop offset="0.55" stop-color="#e4b018"/><stop offset="1" stop-color="#b87808"/></linearGradient>
<linearGradient id="gBlue" x1="0" y1="0" x2="0" y2="1"><stop offset="0" stop-color="#5ab0f0"/><stop offset="1" stop-color="#1060c8"/></linearGradient>
<linearGradient id="gRed" x1="0" y1="0" x2="0" y2="1"><stop offset="0" stop-color="#ea5030"/><stop offset="1" stop-color="#d42008"/></linearGradient>
<linearGradient id="gCloud" x1="0" y1="0" x2="0" y2="1"><stop offset="0" stop-color="#ffffff"/><stop offset="1" stop-color="#bcc8e0"/></linearGradient>
<linearGradient id="gSig" x1="0" y1="0" x2="1" y2="1"><stop offset="0" stop-color="#e4f0e0"/><stop offset="0.5" stop-color="#a8d49c"/><stop offset="1" stop-color="#2e9a3a"/></linearGradient>
<linearGradient id="gFace" x1="0" y1="0" x2="1" y2="0"><stop offset="0" stop-color="#f0c820"/><stop offset="0.6" stop-color="#fff070"/><stop offset="1" stop-color="#f0d030"/></linearGradient>
<linearGradient id="gStop" x1="0" y1="0" x2="0" y2="1"><stop offset="0" stop-color="#c81808"/><stop offset="1" stop-color="#f03410"/></linearGradient>
<radialGradient id="gLens" cx="0.4" cy="0.35" r="0.7"><stop offset="0" stop-color="#ffffff"/><stop offset="1" stop-color="#b8dcf8"/></radialGradient>
<pattern id="chk" width="2" height="2" patternUnits="userSpaceOnUse"><rect width="2" height="2" fill="#ffffff"/><rect x="0" y="0" width="1" height="1" fill="#f0f0f0"/><rect x="1" y="1" width="1" height="1" fill="#f0f0f0"/></pattern>
</defs>
<g shape-rendering="crispEdges">
<rect x="0" y="0" width="1689" height="20" fill="#f0f0f0"/>
<rect x="0" y="20" width="1689" height="1" fill="#f7f7f7"/>
<rect x="0" y="21" width="1688" height="1" fill="#a0a0a0"/>
<rect x="1" y="22" width="1686" height="1" fill="#696969"/>
<rect x="0" y="22" width="1" height="1" fill="#a0a0a0"/>
<rect x="1687" y="22" width="1" height="1" fill="#e3e3e3"/><rect x="1688" y="21" width="1" height="2" fill="#ffffff"/>
<rect x="2" y="0" width="1" height="19" fill="#a0a0a0"/><rect x="3" y="0" width="1" height="19" fill="#fafafa"/>
<rect x="238" y="0" width="1" height="21" fill="#a0a0a0"/><rect x="239" y="0" width="1" height="21" fill="#fafafa"/>
<rect x="242" y="1" width="3" height="1" fill="#a8a8a8"/>
<rect x="242" y="3" width="3" height="1" fill="#a8a8a8"/>
<rect x="242" y="5" width="3" height="1" fill="#a8a8a8"/>
<rect x="242" y="7" width="3" height="1" fill="#a8a8a8"/>
<rect x="242" y="9" width="3" height="1" fill="#a8a8a8"/>
<rect x="242" y="11" width="3" height="1" fill="#a8a8a8"/>
<rect x="242" y="13" width="3" height="1" fill="#a8a8a8"/>
<rect x="242" y="15" width="3" height="1" fill="#a8a8a8"/>
<rect x="242" y="17" width="3" height="1" fill="#a8a8a8"/>
<rect x="276" y="0" width="25" height="19" fill="url(#chk)"/>
<rect x="276" y="0" width="1" height="19" fill="#a0a0a0"/>
<rect x="333" y="0" width="1" height="19" fill="#a0a0a0"/><rect x="334" y="0" width="1" height="19" fill="#fafafa"/>
<rect x="423" y="0" width="1" height="19" fill="#a0a0a0"/><rect x="424" y="0" width="1" height="19" fill="#fafafa"/>
<rect x="428" y="0" width="25" height="19" fill="url(#chk)"/>
<rect x="428" y="0" width="1" height="19" fill="#a0a0a0"/>
<rect x="456" y="0" width="25" height="19" fill="url(#chk)"/>
<rect x="456" y="0" width="1" height="19" fill="#a0a0a0"/>
<rect x="485" y="0" width="1" height="19" fill="#a0a0a0"/><rect x="486" y="0" width="1" height="19" fill="#fafafa"/>
<rect x="606" y="0" width="1" height="21" fill="#a0a0a0"/><rect x="607" y="0" width="1" height="21" fill="#fafafa"/>
<rect x="610" y="1" width="3" height="1" fill="#a8a8a8"/>
<rect x="610" y="3" width="3" height="1" fill="#a8a8a8"/>
<rect x="610" y="5" width="3" height="1" fill="#a8a8a8"/>
<rect x="610" y="7" width="3" height="1" fill="#a8a8a8"/>
<rect x="610" y="9" width="3" height="1" fill="#a8a8a8"/>
<rect x="610" y="11" width="3" height="1" fill="#a8a8a8"/>
<rect x="610" y="13" width="3" height="1" fill="#a8a8a8"/>
<rect x="610" y="15" width="3" height="1" fill="#a8a8a8"/>
<rect x="610" y="17" width="3" height="1" fill="#a8a8a8"/>
<rect x="616" y="0" width="25" height="19" fill="url(#chk)"/>
<rect x="616" y="0" width="1" height="19" fill="#a0a0a0"/>
<rect x="673" y="0" width="1" height="19" fill="#a0a0a0"/><rect x="674" y="0" width="1" height="19" fill="#fafafa"/>
<rect x="912" y="0" width="1" height="21" fill="#a0a0a0"/><rect x="913" y="0" width="1" height="21" fill="#fafafa"/>
<rect x="916" y="1" width="3" height="1" fill="#a8a8a8"/>
<rect x="916" y="3" width="3" height="1" fill="#a8a8a8"/>
<rect x="916" y="5" width="3" height="1" fill="#a8a8a8"/>
<rect x="916" y="7" width="3" height="1" fill="#a8a8a8"/>
<rect x="916" y="9" width="3" height="1" fill="#a8a8a8"/>
<rect x="916" y="11" width="3" height="1" fill="#a8a8a8"/>
<rect x="916" y="13" width="3" height="1" fill="#a8a8a8"/>
<rect x="916" y="15" width="3" height="1" fill="#a8a8a8"/>
<rect x="916" y="17" width="3" height="1" fill="#a8a8a8"/>
<rect x="1062" y="0" width="25" height="19" fill="url(#chk)"/>
<rect x="1062" y="0" width="1" height="19" fill="#a0a0a0"/>
<rect x="1173" y="0" width="1" height="21" fill="#a0a0a0"/><rect x="1174" y="0" width="1" height="21" fill="#fafafa"/>
</g>
<g><path d="M12.5 1.5H20L23.5 5V14.5H12.5Z" fill="#fdfdfd" stroke="#7c7c7c" stroke-width="1"/><path d="M20 1.5V5H23.5" fill="#e8e8e8" stroke="#9a9a9a" stroke-width="0.8"/><path d="M14.5 4H17M14.5 7H21M14.5 9.5H19M14.5 12H17" stroke="#989898" stroke-width="1"/>
<path d="M20.3 7.5H23.7V11.3H27.5V14.7H23.7V18.5H20.3V14.7H16.5V11.3H20.3Z" fill="url(#gGreen)" stroke="#007800" stroke-width="0.9"/></g>
<path transform="translate(31,2)" d="M3.5 0V1M0 1.5H6M1.5 2L2.5 4M4.8 2L4.2 4M0 4.5H12M0.3 6.5H6M3.5 4.5V10.5H1.2M2.6 7.6L0.4 10.2M4.4 7.6L6.2 9.8M10.8 0.4L7.5 1.6M7.5 1.6V8Q7.4 10.4 6.4 11.6M9.5 4.5V11.6" fill="none" stroke="#000" stroke-width="1.0" stroke-linecap="butt"/>
<path transform="translate(43,2)" d="M1 0.3L2.6 2.2M0 4.5H2.5V9.8L4.2 8.2M4.4 1.5H12M8.5 1.5V10.5H5.2" fill="none" stroke="#000" stroke-width="1.0" stroke-linecap="butt"/>
<path transform="translate(55,2)" d="M3 0L4 1.6M9 0L8 1.6M1.5 2.5H10.5V6.5H1.5ZM1.5 4.5H10.5M0 8.5H12M6.5 2.5V11.6" fill="none" stroke="#000" stroke-width="1.0" stroke-linecap="butt"/>
<g><path d="M79 10.4L79.2 12.2L86.4 16.8L95 10.6L94.4 7.8L87.4 14.6Z" fill="#b87818" stroke="#8a5208" stroke-width="0.7" stroke-linejoin="round"/><path d="M87.6 15.2L94.2 8.6L94.7 10.3L86.8 16.2Z" fill="#efe2b0"/><path d="M84.7 2.3L94.3 7.7L87.4 14.8L79.2 10.3Q83 7.4 84.7 2.3Z" fill="url(#gGold)" stroke="#a06008" stroke-width="0.8" stroke-linejoin="round"/><path d="M80.6 10.6L87.2 14" stroke="#fbe890" stroke-width="0.9"/><path d="M85.4 4L92.4 8" stroke="#fff4a8" stroke-width="0.7" opacity="0.8"/></g>
<g><path d="M109 2.6L112.4 4.2V11L109 9.8Z" fill="#0aa4ff"/><path d="M109 2.6L116.6 1.2L120.3 2.7L112.4 4.2Z" fill="#2a66dc"/><path d="M112.4 4.2L120.3 2.7V10.4L112.4 11Z" fill="#1e94fa"/><path d="M112.4 4.2V11" stroke="#d8f0ff" stroke-width="0.7"/><path d="M113.9 5.5L119 4.7V7.9L113.9 8.6Z" fill="#e4f2ff"/><path d="M114.2 6.9L118.8 6.2" stroke="#3a9cf0" stroke-width="0.9"/><path d="M109.3 16.6C106.6 16.6 106.4 13.2 108.8 12.7C109 10.7 112 10.1 113.2 11.6C114.6 9.2 118.4 10 118.6 12.5C122.8 11.9 123.6 16.6 120.6 16.6Z" fill="url(#gCloud)" stroke="#4a68b0" stroke-width="0.9"/><path d="M108.4 16.4H121.4" stroke="#3058a0" stroke-width="0.9"/></g>
<g fill="none"><path d="M143 0.9A8 8 0 0 1 143.4 16.8L143 8.9Z" fill="url(#gSig)"/><circle cx="143" cy="8.9" r="7.4" stroke="#7f9fe0" stroke-width="1.1" stroke-dasharray="2.2,1" opacity="0.75"/><circle cx="143" cy="8.9" r="4.6" stroke="#6a90e0" stroke-width="1.1" opacity="0.7"/><path d="M143 1.5A7.4 7.4 0 0 1 143 16.3" stroke="#5e9a6e" stroke-width="1.2" opacity="0.8"/><path d="M143 4.3A4.6 4.6 0 0 1 145.6 12.7" stroke="#e0f0e0" stroke-width="1" opacity="0.8"/><circle cx="143" cy="8.6" r="1.9" fill="#2a58d0" stroke="none"/><path d="M143.6 9.2V16.8" stroke="#18a018" stroke-width="1.5"/></g>
<g><path d="M162.2 8.6L177.6 7.6L176.4 11L170.4 16.8L168 15.6Z" fill="url(#gFace)" stroke="#c49a10" stroke-width="0.7" stroke-linejoin="round"/><path d="M162 6.6C162.5 4.6 165.8 4.8 166.6 4.6C166.6 0.6 173 0.4 173.2 3.6C175 3.2 178 3.2 177.8 5.2C177.4 7.6 172 8.6 169 8.6C165.6 8.6 161.6 8.4 162 6.6Z" fill="#48a8dc" stroke="#2486b8" stroke-width="0.7"/><ellipse cx="169.6" cy="3.4" rx="2.4" ry="1.5" fill="#a4dcf8" opacity="0.85"/><path d="M172.6 6.6Q175.6 6 176.6 4.8" stroke="#c4ecff" stroke-width="0.9" fill="none" opacity="0.8"/><circle cx="174.6" cy="12.6" r="4.1" fill="url(#gStop)" stroke="#b41800" stroke-width="0.6"/><rect x="173" y="11.1" width="3.2" height="3.1" fill="#fff"/></g>
<path transform="translate(184,2)" d="M4.6 0L3.8 1.2M0.5 1.5H9.5M0.5 1V11M9.5 1V11M0.5 4.5H9.5M0.5 7.5H9.5M0.5 9.5H9.5" fill="none" stroke="#000" stroke-width="1.0" stroke-linecap="butt"/>
<path transform="translate(195,2)" d="M1 1.5H5.4M0 4.5H6.4M3 4.8L1.2 8.6M0.8 9.4L5 8.6M4.6 6.4L5.8 9.6M5.6 2.5H11M10.5 2.5V9.4Q10.4 10.6 8.6 10.2M8.4 0.2V4Q8.2 8.4 5.6 10.8" fill="none" stroke="#000" stroke-width="1.0" stroke-linecap="butt"/>
<path transform="translate(207,2)" d="M5.3 0L5.9 1.4M0 2.5H12M3.2 3.9L0.8 6.4M8.2 3.9L10.8 6.4M7.8 6.2Q5.6 9.4 0.6 10.7M3.6 6.6Q6.4 9.6 11.6 10.7" fill="none" stroke="#000" stroke-width="1.0" stroke-linecap="butt"/>
<path transform="translate(219,2)" d="M1.5 0.5H9.5V4.5H1.5ZM1.5 2.5H9.5M3 4.8L0.4 7.4M1.2 6.5H10.5V9.4Q10.4 10.6 8.6 10.2M5.2 6.6L1.8 10.6M8 6.6L4.6 10.6" fill="none" stroke="#000" stroke-width="1.0" stroke-linecap="butt"/>
<g stroke="#555" stroke-width="1.2" fill="none"><path d="M256.5 4.5V16.6M254 14.5H266"/></g><path d="M254.7 5.6L256.5 2.8L258.3 5.6Z M265.2 12.7L268 14.5L265.2 16.3Z" fill="#555"/>
<path d="M262.5 5V12.3M262.5 5.5H265M260 11.7H262.5" stroke="#109010" stroke-width="1.3" fill="none"/>
<g stroke="#555" stroke-width="1.2" fill="none"><path d="M284.5 4.5V16.6M282 14.5H294"/></g><path d="M282.7 5.6L284.5 2.8L286.3 5.6Z M293.2 12.7L296 14.5L293.2 16.3Z" fill="#555"/>
<path d="M290.5 1V12.8" stroke="#109010" stroke-width="1.2"/><rect x="288.3" y="3.2" width="4.6" height="7.6" fill="#30e040" stroke="#109010" stroke-width="0.9"/>
<g stroke="#555" stroke-width="1.2" fill="none"><path d="M312.5 4.5V16.6M310 14.5H322"/></g><path d="M310.7 5.6L312.5 2.8L314.3 5.6Z M321.2 12.7L324 14.5L321.2 16.3Z" fill="#555"/>
<path d="M311 11.6C314 10 315 6 317.2 6.2C319 6.4 320.5 9.3 322.8 10" stroke="#30a040" stroke-width="1.2" fill="none"/>
<path d="M352 11.2L357 15.6" stroke="#b89018" stroke-width="2.6" stroke-linecap="round"/><path d="M352.2 11L356.8 15.2" stroke="#f0d860" stroke-width="1" stroke-linecap="round"/>
<circle cx="348" cy="7" r="5.4" fill="url(#gLens)" stroke="#2a78d0" stroke-width="1.3"/>
<path d="M345 7H351" stroke="#3a80b8" stroke-width="1.6"/>
<path d="M348 4V10" stroke="#3a80b8" stroke-width="1.6"/>
<path d="M380 11.2L385 15.6" stroke="#b89018" stroke-width="2.6" stroke-linecap="round"/><path d="M380.2 11L384.8 15.2" stroke="#f0d860" stroke-width="1" stroke-linecap="round"/>
<circle cx="376" cy="7" r="5.4" fill="url(#gLens)" stroke="#2a78d0" stroke-width="1.3"/>
<path d="M373 7H379" stroke="#3a80b8" stroke-width="1.6"/>
<rect x="398" y="1.3" width="7.6" height="7.4" fill="#3aa018"/><rect x="398" y="1.3" width="7.6" height="2.2" fill="#2a8a10"/><rect x="398.9" y="4.0" width="5.8" height="3.9" fill="#fff"/><rect x="400" y="5.3999999999999995" width="3.6" height="0.9" fill="#3aa018" opacity="0.45"/><rect x="399" y="2.1" width="1" height="0.9" fill="#fff" opacity="0.8"/>
<rect x="406" y="1.3" width="7.6" height="7.4" fill="#2058d8"/><rect x="406" y="1.3" width="7.6" height="2.2" fill="#1040b8"/><rect x="406.9" y="4.0" width="5.8" height="3.9" fill="#fff"/><rect x="408" y="5.3999999999999995" width="3.6" height="0.9" fill="#2058d8" opacity="0.45"/><rect x="407" y="2.1" width="1" height="0.9" fill="#fff" opacity="0.8"/>
<rect x="398" y="9" width="7.6" height="7.4" fill="#2058d8"/><rect x="398" y="9" width="7.6" height="2.2" fill="#1040b8"/><rect x="398.9" y="11.7" width="5.8" height="3.9" fill="#fff"/><rect x="400" y="13.1" width="3.6" height="0.9" fill="#2058d8" opacity="0.45"/><rect x="399" y="9.8" width="1" height="0.9" fill="#fff" opacity="0.8"/>
<rect x="406" y="9" width="7.6" height="7.4" fill="#3aa018"/><rect x="406" y="9" width="7.6" height="2.2" fill="#2a8a10"/><rect x="406.9" y="11.7" width="5.8" height="3.9" fill="#fff"/><rect x="408" y="13.1" width="3.6" height="0.9" fill="#3aa018" opacity="0.45"/><rect x="407" y="9.8" width="1" height="0.9" fill="#fff" opacity="0.8"/>
<g stroke="#555" stroke-width="1.2" fill="none"><path d="M436.5 4.5V16.6M434 14.5H446"/></g><path d="M434.7 5.6L436.5 2.8L438.3 5.6Z M445.2 12.7L448 14.5L445.2 16.3Z" fill="#555"/>
<path d="M441 5L445 8.5L441 12Z" fill="#40d850" stroke="#109010" stroke-width="1"/>
<g stroke="#555" stroke-width="1.2" fill="none"><path d="M464.5 4.5V16.6M462 14.5H474"/></g><path d="M462.7 5.6L464.5 2.8L466.3 5.6Z M473.2 12.7L476 14.5L473.2 16.3Z" fill="#555"/>
<path d="M470.5 3V12.8" stroke="#1878a8" stroke-width="1.4"/><path d="M471.6 8.5L474.4 6.1V7.9H476.3V9.1H474.4V10.9Z" fill="#d83808" stroke="#c03000" stroke-width="0.5"/>
<g><path d="M495.5 1.5H503L506.5 5V14.5H495.5Z" fill="#fdfdfd" stroke="#7c7c7c" stroke-width="1"/><path d="M503 1.5V5H506.5" fill="#e8e8e8" stroke="#9a9a9a" stroke-width="0.8"/><path d="M500.6 3.4Q498.6 3 498.6 5V11Q498.6 12.6 497.4 12.4M497.4 6.6H500.4" stroke="#605040" stroke-width="0.9" fill="none"/>
<path d="M503.3 7.5H506.7V11.3H510.5V14.7H506.7V18.5H503.3V14.7H499.5V11.3H503.3Z" fill="url(#gGreen)" stroke="#007800" stroke-width="0.9"/></g>
<path d="M517 7.7H522.6L519.8 11Z" fill="#000"/>
<g><circle cx="541" cy="8.8" r="6.8" fill="#f4f8fc" stroke="#1468d0" stroke-width="2.5"/><circle cx="541" cy="8.8" r="7.9" fill="none" stroke="#0a4aa0" stroke-width="0.5"/><path d="M540.6 5.6V9.4H543.2" stroke="#303030" stroke-width="1.1" fill="none"/><path d="M541 3.3V4M541 13.6V14.3M535.6 8.8H536.3M545.7 8.8H546.4" stroke="#a0a8b0" stroke-width="0.8"/></g>
<path d="M555.8 7.7H561.4L558.5999999999999 11Z" fill="#000"/>
<g><rect x="572.5" y="2.5" width="15" height="13.4" fill="#fff" stroke="#2a68c0" stroke-width="1"/><rect x="572" y="2" width="16" height="2.6" fill="#3a80d8"/><path d="M572 10.4H588" stroke="#3a78d0" stroke-width="1"/><path d="M574 8.4L576.6 8L578 6.8L580 7.4L582 6.4L584 7L586 6.2" stroke="#b02810" stroke-width="1.2" fill="none"/><path d="M574.6 13.6L577 13L578.6 13.6L581 11.6L583 11.8L585.4 13.4" stroke="#209030" stroke-width="1.2" fill="none"/></g>
<path d="M594.8 7.7H600.4L597.5999999999999 11Z" fill="#000"/>
<path d="M624.2 2V12.8L626.8 10.6L629.2 15.8L631 15L628.6 10L632 9.6Z" fill="#505050"/>
<path d="M656.5 2V8.6M656.5 10.4V16.8M649 9.5H655.6M657.4 9.5H664" stroke="#505050" stroke-width="1.2"/>
<path d="M690.5 3V15.8M712.8 9.5H724.8" stroke="#505050" stroke-width="1.3"/><path d="M740.8 15.8L753 3.8" stroke="#505050" stroke-width="1.2"/>
<g stroke="#505050" fill="none"><path d="M767 10.8L775 3M772 15.8L780.8 7.3" stroke-width="1"/><path d="M769.5 13L770.2 8.6L772.8 11L773.4 6.8L776 9L776.6 4.6L778.8 7L778.6 1.2" stroke-width="0.9"/></g>
<text x="777.6" y="17.8" font-size="6.6" font-weight="bold" fill="#404040" font-family="Liberation Sans, sans-serif">E</text>
<path d="M796 2.5H809" stroke="#505050" stroke-width="1" stroke-dasharray="1,1"/>
<path d="M796 5.4H809" stroke="#505050" stroke-width="1" stroke-dasharray="1,1"/>
<path d="M796 9.6H809" stroke="#505050" stroke-width="1" stroke-dasharray="1,1"/>
<path d="M796 13.7H804.5" stroke="#505050" stroke-width="1" stroke-dasharray="1,1"/>
<text x="805.6" y="17.8" font-size="6.6" font-weight="bold" fill="#404040" font-family="Liberation Sans, sans-serif">F</text>
<text x="826.8" y="14.2" font-size="12.8" fill="#505050" textLength="7.7" lengthAdjust="spacingAndGlyphs" font-family="Liberation Sans, sans-serif">A</text>
<rect x="853.5" y="3.5" width="11" height="12" fill="none" stroke="#505050" stroke-width="1" stroke-dasharray="1,1" shape-rendering="crispEdges"/><path d="M855.4 6.6H863M859.2 6.6V13.5" stroke="#505050" stroke-width="1.4"/><rect x="852.3" y="2.6" width="2" height="1.2" fill="#404040"/>
<path d="M883.5 3.2L887.2 6.4L883.5 7.8L879.8 6.4Z M890.4 11.2L894 12.8L890.4 16L886.8 12.8Z" fill="#505050"/><path d="M882.4 11.2L884.4 12.8L888.8 7.2" stroke="#505050" stroke-width="1.3" fill="none"/>
<path d="M900.8 7.7H906.4L903.5999999999999 11Z" fill="#000"/>
<text x="927.6" y="13" font-size="10" fill="#303030" style="text-rendering:geometricPrecision" textLength="12.4" lengthAdjust="spacingAndGlyphs" font-family="Liberation Sans, sans-serif">M1</text>
<text x="955.8" y="13" font-size="10" fill="#303030" style="text-rendering:geometricPrecision" textLength="12.4" lengthAdjust="spacingAndGlyphs" font-family="Liberation Sans, sans-serif">M5</text>
<text x="981.5" y="13" font-size="10" fill="#303030" style="text-rendering:geometricPrecision" textLength="17.7" lengthAdjust="spacingAndGlyphs" font-family="Liberation Sans, sans-serif">M15</text>
<text x="1009.6" y="13" font-size="10" fill="#303030" style="text-rendering:geometricPrecision" textLength="17.7" lengthAdjust="spacingAndGlyphs" font-family="Liberation Sans, sans-serif">M30</text>
<text x="1040.8" y="13" font-size="10" fill="#303030" style="text-rendering:geometricPrecision" textLength="11.2" lengthAdjust="spacingAndGlyphs" font-family="Liberation Sans, sans-serif">H1</text>
<text x="1067.7" y="13" font-size="10" fill="#303030" style="text-rendering:geometricPrecision" textLength="11.9" lengthAdjust="spacingAndGlyphs" font-family="Liberation Sans, sans-serif">H4</text>
<text x="1096.5" y="13" font-size="10" fill="#303030" style="text-rendering:geometricPrecision" textLength="11.5" lengthAdjust="spacingAndGlyphs" font-family="Liberation Sans, sans-serif">D1</text>
<text x="1123.8" y="13" font-size="10" fill="#303030" style="text-rendering:geometricPrecision" textLength="14.2" lengthAdjust="spacingAndGlyphs" font-family="Liberation Sans, sans-serif">W1</text>
<text x="1150.8" y="13" font-size="10" fill="#303030" style="text-rendering:geometricPrecision" textLength="14.6" lengthAdjust="spacingAndGlyphs" font-family="Liberation Sans, sans-serif">MN</text>
<path d="M1640.4 9.8L1635.8 14" stroke="#2a5cd0" stroke-width="2.4" stroke-linecap="round"/><circle cx="1643.6" cy="6.4" r="3.8" fill="#f4f6ff" stroke="#2462d8" stroke-width="1.2"/>
<path d="M1661 11.2C1661 8.4 1663.4 6.6 1666.4 6.6C1669.6 6.6 1671.6 8.6 1671.6 11.2C1671.6 13.8 1669.4 15.6 1666.4 15.6C1665.8 15.6 1665.2 15.5 1664.8 15.4L1663.4 17.4L1663.4 14.8C1662 14 1661 12.8 1661 11.2Z" fill="#e4e6f0" stroke="#b8bac4" stroke-width="0.8"/>
<circle cx="1674.6" cy="7" r="8.3" fill="url(#gRed)"/>
<text x="1673.8" y="11" font-size="12" font-weight="bold" fill="#fff" text-anchor="middle" font-family="Liberation Serif, serif">1</text>
</svg>
</body></html>
